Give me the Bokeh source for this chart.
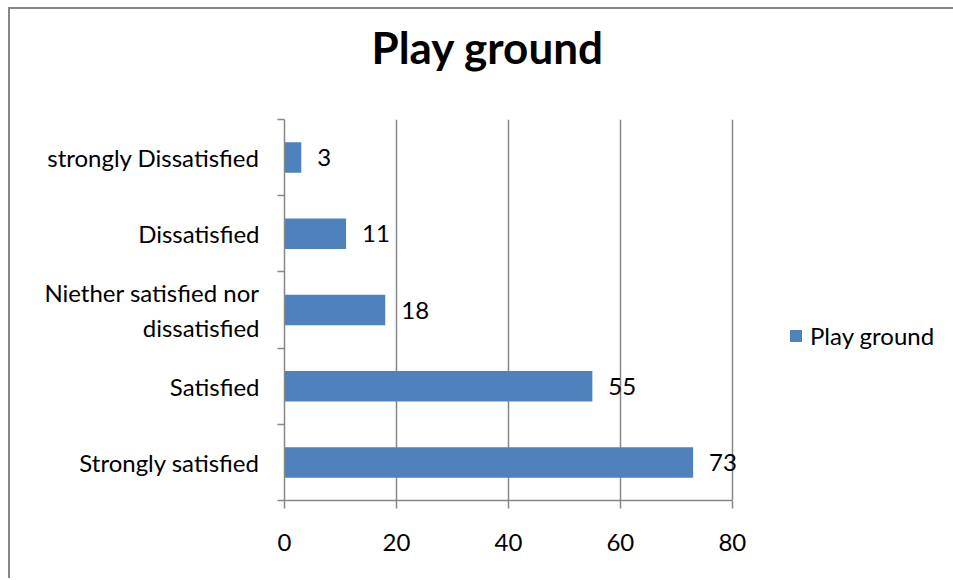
from bokeh.plotting import figure
from bokeh.models import ColumnDataSource, FixedTicker, Legend, LegendItem, LinearAxis
from bokeh.core.properties import value
from bokeh.embed import file_html
from bokeh.resources import INLINE

# Survey responses about the play ground, bottom category first
categories = [
    "Strongly satisfied",
    "Satisfied",
    "Niether satisfied nor\ndissatisfied",
    "Dissatisfied",
    "strongly Dissatisfied",
]
counts = [73, 55, 18, 11, 3]
x_ticks = [0, 20, 40, 60, 80]
series_name = "Play ground"
chart_title = "Play ground"

FONT = "Lato"
GREY = "#878787"
BAR = "#4f81bd"
TXT = "24px"

positions = [i + 0.5 for i in range(len(categories))]
boundaries = list(range(len(categories) + 1))

src = ColumnDataSource(dict(
    y=positions,
    count=counts,
    label=[str(c) for c in counts],
))

# a little room past 80 so the largest value label is not clipped
p = figure(
    frame_width=459, frame_height=381,
    min_border_left=274, min_border_right=210,
    min_border_top=110, min_border_bottom=78,
    x_range=(0, 82), y_range=(0, 5),
    output_backend="svg", toolbar_location=None,
)
p.margin = (7, 0, 0, 8)
p.styles = {
    "border-top": f"2px solid {GREY}",
    "border-left": f"2px solid {GREY}",
}
p.outline_line_color = None
p.background_fill_color = "white"
p.border_fill_color = "white"

xa = p.below[0]
ya = p.left[0]

# blank band between the plot area and the title (one hidden tick gives it height)
gap = LinearAxis(
    ticker=FixedTicker(ticks=[40]),
    axis_line_color=None, major_tick_line_color=None, minor_tick_line_color=None,
    major_tick_in=0, major_tick_out=46, minor_tick_in=0, minor_tick_out=0,
    major_label_standoff=0, major_label_text_color=None,
    major_label_text_font_size="1px",
)
p.add_layout(gap, "above")

p.title.text = chart_title
p.title.align = "left"
p.title.offset = 87
p.title.vertical_align = "bottom"
p.title.standoff = 2
p.title.text_font = FONT
p.title.text_font_style = "bold"
p.title.text_font_size = "44px"
p.title.text_color = "black"

bars = p.hbar(y="y", left=0, right="count", height=0.4, source=src,
              fill_color=BAR, line_color=None)

p.text(x="count", y="y", text="label", source=src, x_offset=16,
       text_align="left", text_baseline="middle",
       text_font=value(FONT), text_font_size=TXT, text_color="black")

# value axis, drawn only over 0..80
xa.bounds = (0, 80)
xa.ticker = FixedTicker(ticks=x_ticks)
xa.axis_line_color = GREY
xa.axis_line_width = 1.5
xa.major_tick_line_color = GREY
xa.major_tick_line_width = 1.5
xa.major_tick_in = 0
xa.major_tick_out = 8
xa.minor_tick_line_color = None
xa.major_label_text_font = FONT
xa.major_label_text_font_size = TXT
xa.major_label_text_color = "black"
xa.major_label_standoff = 25

# category axis: labels centred in each band, ticks on band edges
ya.ticker = FixedTicker(ticks=positions, minor_ticks=boundaries)
ya.major_label_overrides = {pos: cat for pos, cat in zip(positions, categories)}
ya.axis_line_color = GREY
ya.axis_line_width = 1.5
ya.major_tick_line_color = None
ya.major_tick_in = 0
ya.major_tick_out = 0
ya.minor_tick_line_color = GREY
ya.minor_tick_line_width = 1.5
ya.minor_tick_in = 0
ya.minor_tick_out = 7
ya.major_label_text_font = FONT
ya.major_label_text_font_size = TXT
ya.major_label_text_color = "black"
ya.major_label_standoff = 18

p.xgrid.ticker = FixedTicker(ticks=x_ticks[1:])
p.xgrid.grid_line_color = GREY
p.xgrid.grid_line_width = 1.5
p.ygrid.visible = False

legend = Legend(
    items=[LegendItem(label=series_name, renderers=[bars])],
    location=(45, 150), padding=0, margin=0, spacing=0,
    border_line_color=None, background_fill_alpha=0,
    glyph_width=15, glyph_height=15, label_standoff=7,
    label_text_font=FONT, label_text_font_size=TXT, label_text_color="black",
)
p.add_layout(legend, "right")

open("out.html", "w").write(file_html(p, INLINE))
